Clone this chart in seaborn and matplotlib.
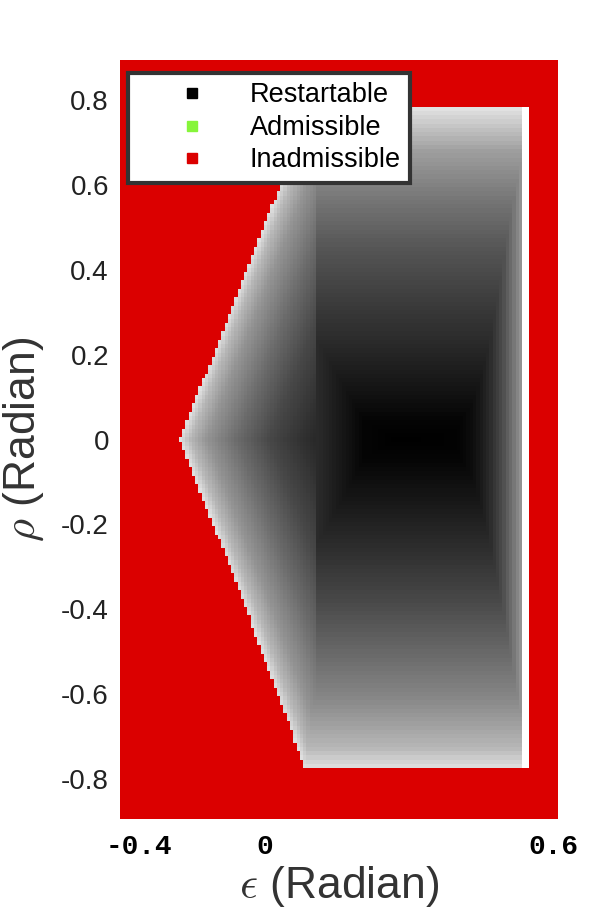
import numpy as np
import pandas as pd
import matplotlib
matplotlib.use('Agg')
import matplotlib.pyplot as plt
import seaborn as sns
from matplotlib.lines import Line2D

# lightness of the restartable region (0 = black, 1 = white)
# vertical profile, read along eps ~ 0.25
rho_profile = [-0.774, -0.729, -0.612, -0.494, -0.376, -0.259, -0.141, -0.047, 0.0,
               0.047, 0.094, 0.21, 0.33, 0.447, 0.565, 0.68, 0.78]
light_rho = [0.88, 0.72, 0.53, 0.40, 0.28, 0.18, 0.09, 0.02, 0.0,
             0.02, 0.06, 0.15, 0.24, 0.33, 0.46, 0.62, 0.88]

# horizontal profile at rho = 0, right of the wedge
eps_profile = [0.05, 0.079, 0.114, 0.137, 0.153, 0.239, 0.369, 0.404, 0.424,
               0.445, 0.461, 0.474, 0.486, 0.497, 0.5145, 0.518, 0.53]
light_eps = [0.17, 0.13, 0.08, 0.05, 0.02, 0.0, 0.01, 0.05, 0.10,
             0.17, 0.24, 0.30, 0.38, 0.45, 0.58, 1.0, 1.0]

# wedge: lightness against distance from the left boundary
wedge_dist = [0.0, 0.023, 0.06, 0.13, 0.205, 0.28, 0.33]
light_wedge = [0.88, 0.72, 0.58, 0.42, 0.28, 0.19, 0.14]
wedge_limit = 0.05

# left boundary of the restartable region
rho_edge = [-0.774, -0.376, 0.0, 0.36, 0.605, 0.78]
eps_edge = [0.022, -0.121, -0.263, -0.126, -0.032, 0.034]
eps_right = 0.53
rho_top = 0.78
rho_bottom = -0.774

yticks = [0.8, 0.6, 0.4, 0.2, 0.0, -0.2, -0.4, -0.6, -0.8]
ytick_labels = ['0.8', '0.6', '0.4', '0.2', '0', '-0.2', '-0.4', '-0.6', '-0.8']
xticks = [-0.357, -0.069, 0.589]
xtick_labels = ['-0.4', '0', '0.6']

legend_labels = ['Restartable', 'Admissible', 'Inadmissible']
legend_colors = ['#000000', '#86f53a', '#db0000']

n_cols = 134
eps = -0.4 + (np.arange(n_cols) + 0.5) / n_cols
rho = np.round(np.arange(0.89, -0.895, -0.01), 3)

E, R = np.meshgrid(eps, rho)
r_part = np.interp(R, rho_profile, light_rho)
c_part = np.interp(E, eps_profile, light_eps)
edge = np.interp(R, rho_edge, eps_edge)
w_part = np.interp(E - edge, wedge_dist, light_wedge)
light = np.where(E < wedge_limit, np.maximum(r_part, w_part), np.maximum(r_part, c_part))
inside = (R <= rho_top) & (R >= rho_bottom) & (E >= edge) & (E <= eps_right)

df = pd.DataFrame(light, index=rho, columns=np.round(eps, 4))

plt.rcParams['font.family'] = ['Liberation Sans', 'DejaVu Sans']
plt.rcParams['mathtext.fontset'] = 'cm'

fig = plt.figure(figsize=(6.07, 9.15), dpi=100)
ax = fig.add_axes([120 / 607, 1 - 819 / 915, 438 / 607, 759 / 915])
ax.set_facecolor('#db0000')
sns.heatmap(df, ax=ax, cmap='gray', vmin=0, vmax=1, mask=~inside, cbar=False,
            xticklabels=False, yticklabels=False)
for s in ax.spines.values():
    s.set_visible(False)

ax.set_yticks([(0.895 - v) * 100 for v in yticks])
ax.set_yticklabels(ytick_labels, fontsize=20, color='#222222')
ax.set_xticks([(v + 0.4) * n_cols for v in xticks])
ax.set_xticklabels(xtick_labels, fontsize=20, fontweight='bold',
                   family='Liberation Mono', color='black')
ax.tick_params(axis='both', length=0)
ax.tick_params(axis='y', pad=8)
ax.tick_params(axis='x', pad=11)

ax.set_xlabel(r'$\epsilon$ (Radian)', fontsize=32, color='#333333', labelpad=3)
ax.set_ylabel(r'$\rho$ (Radian)', fontsize=32, color='#333333', labelpad=11)

handles = [Line2D([], [], marker='s', ls='', color=c, markersize=7) for c in legend_colors]
leg = ax.legend(handles, legend_labels, loc='upper left',
                bbox_to_anchor=(128 / 607, 1 - 73 / 915), bbox_transform=fig.transFigure,
                frameon=True, fancybox=False, framealpha=1, edgecolor='#333333',
                fontsize=19.5, borderpad=0.35, handlelength=4.0, handletextpad=0.15,
                labelspacing=0.24, borderaxespad=0)
leg.get_frame().set_linewidth(3)

fig.savefig('out.png', dpi=100)
